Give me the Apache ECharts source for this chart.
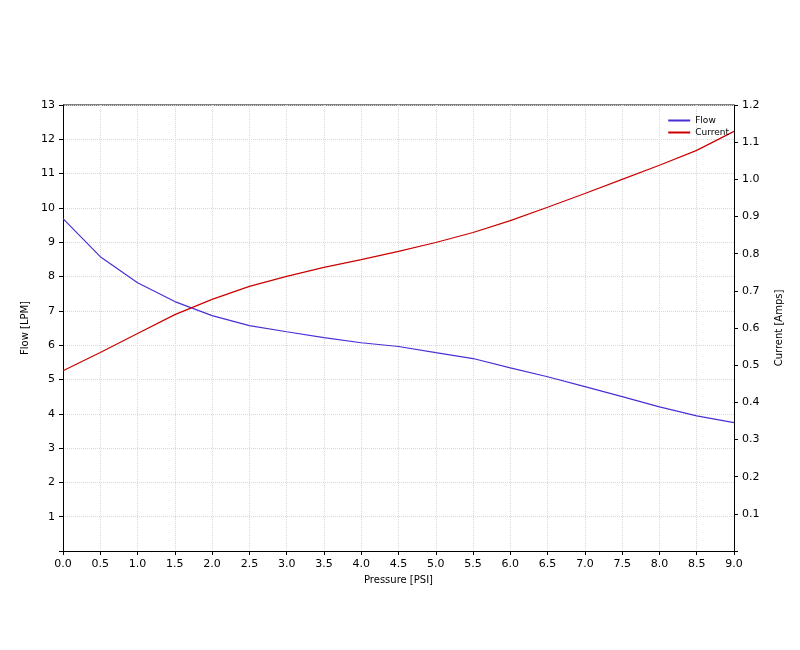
<!DOCTYPE html>
<html><head><meta charset="utf-8">
<script src="https://cdn.jsdelivr.net/npm/echarts@6/dist/echarts.min.js"></script>
<style>html,body{margin:0;padding:0;background:#fff}#c{width:800px;height:650px}</style>
</head><body><div id="c"></div>
<script>
const pressure = [0,0.5,1,1.5,2,2.5,3,3.5,4,4.5,5,5.5,6,6.5,7,7.5,8,8.5,9];
const flow = [9.69,8.58,7.82,7.27,6.86,6.57,6.39,6.22,6.07,5.96,5.78,5.61,5.34,5.08,4.79,4.50,4.20,3.94,3.74];
const current = [0.485,0.534,0.585,0.636,0.677,0.712,0.739,0.763,0.784,0.806,0.830,0.857,0.889,0.925,0.962,1.000,1.038,1.078,1.129];
const font = 'DejaVu Sans';
const chart = echarts.init(document.getElementById('c'));
const lbl = {color:'#000', fontSize:11, fontFamily:font};
chart.setOption({
  animation:false,
  textStyle:{fontFamily:font},
  grid:{left:63, right:66, top:105, bottom:99},
  legend:{top:111, right:66, orient:'vertical', itemWidth:22, itemHeight:2, itemGap:3,
    icon:'rect', textStyle:{fontSize:9, color:'#000', fontFamily:font},
    data:['Flow','Current']},
  xAxis:{type:'value', min:0, max:9, interval:0.5, name:'Pressure [PSI]', nameLocation:'middle', nameGap:24,
    nameTextStyle:{fontSize:10,color:'#000',fontFamily:font},
    axisLine:{lineStyle:{color:'#000'}}, axisTick:{lineStyle:{color:'#000'}, length:4},
    axisLabel:Object.assign({formatter:v=>v.toFixed(1)},lbl),
    splitLine:{show:true, lineStyle:{color:'#d8d8d8', type:'dotted'}}},
  yAxis:[
    {type:'value', min:0, max:13, interval:1, name:'Flow [LPM]', nameLocation:'middle', nameGap:30,
      nameTextStyle:{fontSize:10,color:'#000',fontFamily:font},
      axisLine:{show:true, lineStyle:{color:'#000'}}, axisTick:{show:true,length:4,lineStyle:{color:'#000'}},
      axisLabel:Object.assign({formatter:v=>v===0?'':String(v)},lbl),
      splitLine:{show:true, lineStyle:{color:'#d8d8d8', type:'dotted'}}},
    {type:'value', min:0, max:1.2, interval:0.1, name:'Current [Amps]', nameLocation:'middle', nameGap:40,
      nameTextStyle:{fontSize:10,color:'#000',fontFamily:font},
      axisLine:{show:true, lineStyle:{color:'#000'}}, axisTick:{show:true,length:4,lineStyle:{color:'#000'}},
      axisLabel:Object.assign({formatter:v=>v===0?'':v.toFixed(1)},lbl),
      splitLine:{show:false}}
  ],
  graphic:[{type:'line', shape:{x1:63,y1:105,x2:734,y2:105}, style:{stroke:'#000',lineWidth:1}}],
  series:[
    {name:'Flow', type:'line', yAxisIndex:0, showSymbol:false, color:'#4a2fd6', lineStyle:{width:1.2},
      data:pressure.map((p,i)=>[p,flow[i]])},
    {name:'Current', type:'line', yAxisIndex:1, showSymbol:false, color:'#cc0000', lineStyle:{width:1.2},
      data:pressure.map((p,i)=>[p,current[i]])}
  ]
});
</script></body></html>
